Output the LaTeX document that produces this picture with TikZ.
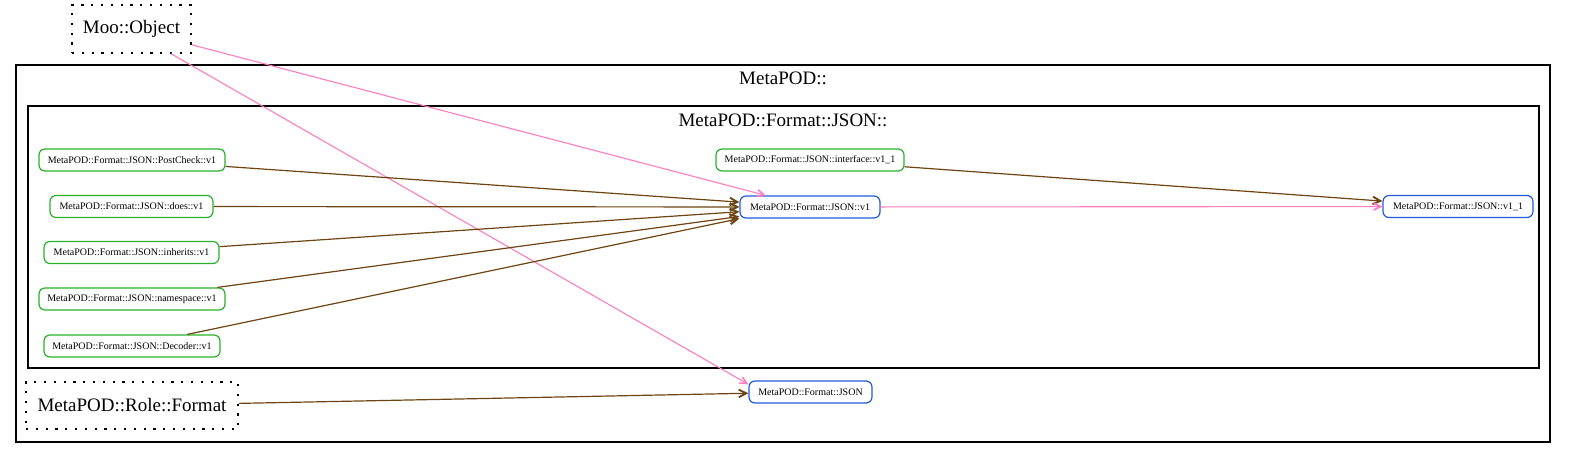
\documentclass[tikz,border=0pt]{standalone}
\usepackage{fontspec}
\setmainfont{Liberation Serif}
\usetikzlibrary{arrows.meta}
\definecolor{edgepink}{RGB}{255,125,190}
\definecolor{edgebrown}{RGB}{110,68,18}
\definecolor{nodegreen}{RGB}{40,178,40}
\definecolor{nodeblue}{RGB}{30,90,220}
\tikzset{
  cls/.style={draw=black, line width=1.2pt, inner sep=0pt},
  clstitle/.style={inner sep=0pt, font=\fontsize{19}{22}\selectfont},
  pkg/.style={draw=black, line width=1.6pt, dash pattern=on 2.2pt off 7.6pt, inner sep=0pt, font=\fontsize{19}{22}\selectfont},
  small/.style={draw, line width=1.2pt, rounded corners=6pt, inner sep=0pt, minimum height=22pt, font=\fontsize{10}{12}\selectfont},
  gnode/.style={small, draw=nodegreen},
  bnode/.style={small, draw=nodeblue},
  pinkedge/.style={draw=edgepink, line width=1.1pt, -{Straight Barb[length=7pt,width=7pt,line width=1.6pt]}},
  brownedge/.style={draw=edgebrown, line width=1.2pt, -{Straight Barb[length=7.5pt,width=7.5pt,line width=1.9pt]}},
}
\begin{document}
\begin{tikzpicture}[x=1pt,y=-1pt]
\useasboundingbox (0,0) rectangle (1571,459);
% clusters
\node[cls, minimum width=1534pt, minimum height=377pt] (metapod) at (783,253.5) {};
\node[clstitle] (metapodt) at (783,78) {MetaPOD::};
\node[cls, minimum width=1511pt, minimum height=262pt] (fmtjson) at (783.5,237) {};
\node[clstitle] (fmtjsont) at (783,120) {MetaPOD::Format::JSON::};
% package nodes
\node[pkg, minimum width=119pt, minimum height=48pt] (moo) at (131.5,29) {Moo::Object};
\node[pkg, minimum width=212pt, minimum height=47pt] (role) at (132,405.5) {MetaPOD::Role::Format};
% green nodes
\node[gnode, minimum width=186pt] (postcheck) at (132,160) {MetaPOD::Format::JSON::PostCheck::v1};
\node[gnode, minimum width=163pt] (does) at (131.5,206.5) {MetaPOD::Format::JSON::does::v1};
\node[gnode, minimum width=175pt] (inherits) at (131.5,252.5) {MetaPOD::Format::JSON::inherits::v1};
\node[gnode, minimum width=186pt] (namespace) at (132,299) {MetaPOD::Format::JSON::namespace::v1};
\node[gnode, minimum width=176pt] (decoder) at (132,346) {MetaPOD::Format::JSON::Decoder::v1};
\node[gnode, minimum width=188pt] (interface) at (810,160) {MetaPOD::Format::JSON::interface::v1\_1};
% blue nodes
\node[bnode, minimum width=140pt] (v1) at (810,207) {MetaPOD::Format::JSON::v1};
\node[bnode, minimum width=150pt] (v11) at (1458,206.5) {MetaPOD::Format::JSON::v1\_1};
\node[bnode, minimum width=123pt] (fj) at (810.5,392) {MetaPOD::Format::JSON};
% edges
\draw[pinkedge] (moo) -- (v1);
\draw[pinkedge] (moo.-32) -- (fj.173);
\draw[brownedge] (postcheck) -- (v1);
\draw[brownedge] (does) -- (v1);
\draw[brownedge] (inherits) -- (v1);
\draw[brownedge] (namespace) -- (v1);
\draw[brownedge] (decoder) -- (v1.south west);
\draw[brownedge] (interface) -- (v11);
\draw[pinkedge] (v1) -- (v11);
\draw[brownedge] (role) -- (fj);
\end{tikzpicture}
\end{document}
